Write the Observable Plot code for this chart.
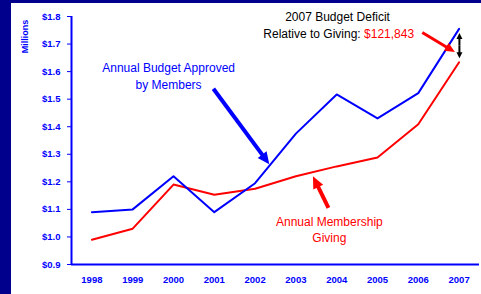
<!DOCTYPE html>
<html><head><meta charset="utf-8">
<script src="https://cdn.jsdelivr.net/npm/d3@7"></script>
<script src="https://cdn.jsdelivr.net/npm/@observablehq/plot@0.6"></script>
<style>
html,body{margin:0;padding:0;background:#fff;width:481px;height:294px;overflow:hidden;}
#chart{position:absolute;left:0;top:0;}
.strip{position:absolute;background:#00008c;}
</style></head><body>
<div id="chart"></div>
<div class="strip" style="left:0;top:0;width:11px;height:294px"></div>
<div class="strip" style="left:0;top:0;width:481px;height:3px"></div>
<script>
// Data
const years = [1998, 1999, 2000, 2001, 2002, 2003, 2004, 2005, 2006, 2007];
const budget = [1.09, 1.10, 1.22, 1.09, 1.195, 1.375, 1.517, 1.43, 1.522, 1.755];
const giving = [0.99, 1.03, 1.19, 1.153, 1.175, 1.22, 1.256, 1.288, 1.409, 1.634];
const yTicks = [0.9, 1.0, 1.1, 1.2, 1.3, 1.4, 1.5, 1.6, 1.7, 1.8];

// Annotation labels (data coordinates)
const budgetLabel = [
  {x: 1999.88, y: 1.612, text: "Annual Budget Approved"},
  {x: 1999.88, y: 1.550, text: "by Members"}
];
const givingLabel = [
  {x: 2003.82, y: 1.0545, text: "Annual Membership"},
  {x: 2003.82, y: 0.9945, text: "Giving"}
];
const deficitTitle = [{x: 2004.02, y: 1.796, text: "2007 Budget Deficit"}];
const deficitLead = [{x: 2004.67, y: 1.7356, text: "Relative to Giving: "}];
const deficitAmount = [{x: 2004.67, y: 1.7356, text: "$121,843"}];

// Arrows (data coordinates)
const budgetArrow = [{x1: 2000.99, y1: 1.536, x2: 2002.36, y2: 1.262}];
const givingArrow = [{x1: 2003.81, y1: 1.104, x2: 2003.43, y2: 1.218}];
const deficitArrow = [{x1: 2006.11, y1: 1.74, x2: 2006.91, y2: 1.669}];
const gapArrows = [
  {x1: 2007.02, y1: 1.6925, x2: 2007.02, y2: 1.738},
  {x1: 2007.02, y1: 1.6925, x2: 2007.02, y2: 1.647}
];

const rows = years.map((yr, i) => ({year: yr, budget: budget[i], giving: giving[i]}));

// Filled-head arrow drawn through Plot's scales
function filledArrows(data, {color, width, headLength, headWidth}) {
  return (index, scales) => {
    const g = d3.create("svg:g");
    for (const d of data) {
      const X1 = scales.x(d.x1), Y1 = scales.y(d.y1), X2 = scales.x(d.x2), Y2 = scales.y(d.y2);
      const dx = X2 - X1, dy = Y2 - Y1, L = Math.hypot(dx, dy);
      const ux = dx / L, uy = dy / L, px = -uy, py = ux;
      const bx = X2 - ux * headLength, by = Y2 - uy * headLength;
      g.append("line").attr("x1", X1).attr("y1", Y1)
        .attr("x2", bx + ux * 1).attr("y2", by + uy * 1)
        .attr("stroke", color).attr("stroke-width", width);
      g.append("path")
        .attr("d", `M${X2},${Y2}L${bx + px * headWidth / 2},${by + py * headWidth / 2}L${bx - px * headWidth / 2},${by - py * headWidth / 2}Z`)
        .attr("fill", color);
    }
    return g.node();
  };
}

const font = "'Liberation Sans', Arial, sans-serif";
const chart = Plot.plot({
  width: 481,
  height: 294,
  marginLeft: 71,
  marginRight: 2,
  marginTop: 16,
  marginBottom: 30,
  style: {fontFamily: font, fontSize: "9.5px", fontWeight: "bold", color: "#0000ff", background: "transparent", overflow: "visible"},
  x: {type: "linear", domain: [1997.5, 2007.5], ticks: years, tickFormat: d => String(d), tickSize: 0, tickPadding: 12, label: null},
  y: {domain: [0.9, 1.8], ticks: yTicks, tickFormat: d => "$" + d.toFixed(1), tickSize: 4, tickPadding: 7, label: null},
  marks: [
    Plot.ruleY([0.9], {stroke: "#0000ff", strokeWidth: 2}),
    Plot.ruleX([1997.5], {stroke: "#0000ff", strokeWidth: 2}),
    Plot.line(rows, {x: "year", y: "giving", stroke: "#ff0000", strokeWidth: 2}),
    Plot.line(rows, {x: "year", y: "budget", stroke: "#0000ff", strokeWidth: 2}),
    filledArrows(budgetArrow, {color: "#0000ff", width: 4, headLength: 12, headWidth: 11}),
    filledArrows(givingArrow, {color: "#ff0000", width: 4, headLength: 12, headWidth: 11}),
    filledArrows(deficitArrow, {color: "#ff0000", width: 3, headLength: 10, headWidth: 9}),
    filledArrows(gapArrows, {color: "#000000", width: 2, headLength: 6, headWidth: 6}),
    Plot.text(budgetLabel, {x: "x", y: "y", text: "text", fill: "#0000ff", fontSize: 12, fontWeight: "normal"}),
    Plot.text(givingLabel, {x: "x", y: "y", text: "text", fill: "#ff0000", fontSize: 12, fontWeight: "normal"}),
    Plot.text(deficitTitle, {x: "x", y: "y", text: "text", fill: "#000000", fontSize: 12, fontWeight: "normal"}),
    Plot.text(deficitLead, {x: "x", y: "y", text: "text", fill: "#000000", fontSize: 12, fontWeight: "normal", textAnchor: "end"}),
    Plot.text(deficitAmount, {x: "x", y: "y", text: "text", fill: "#ff0000", fontSize: 12, fontWeight: "normal", textAnchor: "start"}),
    Plot.text(["Millions"], {frameAnchor: "top-left", rotate: -90, dx: -46, dy: 20, textAnchor: "middle", lineAnchor: "middle", fill: "#0000ff", fontSize: 9, fontWeight: "bold"})
  ]
});
document.getElementById("chart").appendChild(chart);
</script>
</body></html>
